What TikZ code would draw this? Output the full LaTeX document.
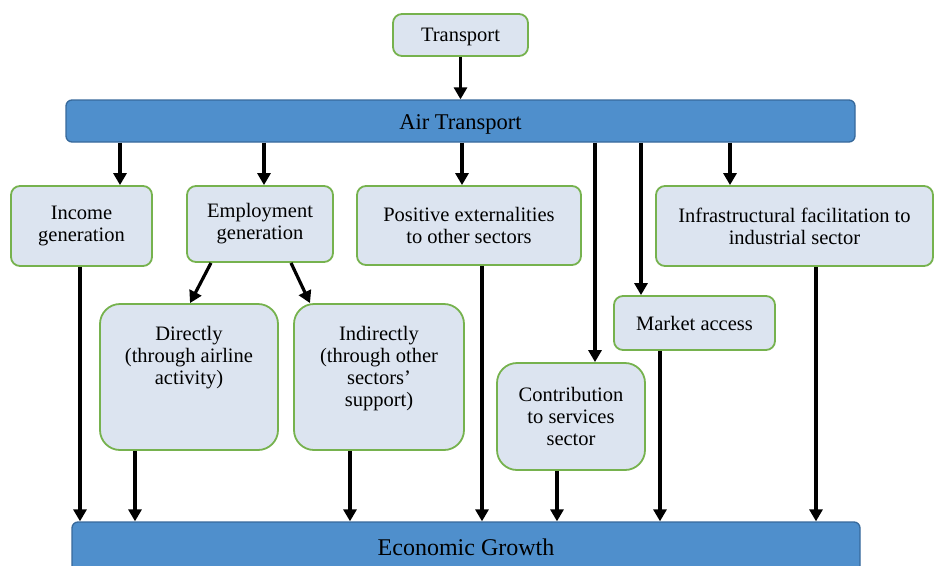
\documentclass[tikz,border=0pt]{standalone}
\usepackage{fontspec}
\setmainfont{Liberation Serif}
\usetikzlibrary{arrows.meta}

\definecolor{boxfill}{RGB}{220,228,240}
\definecolor{boxgreen}{RGB}{118,178,78}
\definecolor{barblue}{RGB}{79,143,204}
\definecolor{bardark}{RGB}{55,105,155}

\tikzset{
  box/.style={draw=boxgreen, fill=boxfill, line width=1.8pt, rounded corners=9pt,
    align=center, inner sep=0pt, font=\fontsize{20.5}{22}\selectfont},
  bigbox/.style={box, rounded corners=20pt},
  bar/.style={draw=bardark, fill=barblue, line width=1.3pt, rounded corners=6pt,
    inner sep=0pt},
  arr/.style={line width=3.2pt, -{Triangle[length=12pt,width=13pt]}}
}

\begin{document}
\begin{tikzpicture}[x=1pt,y=-1pt]
		\useasboundingbox (0,0) rectangle (934,565);
		% top
		\node [box, minimum width=135, minimum height=42, text height=13.6pt, text depth=0pt] (tr) at (460.5,35) {Transport};
		\node [bar, minimum width=789, minimum height=42, text height=17pt, text depth=0pt, font=\fontsize{22.5}{24}\selectfont] (air) at (460.5,121) {Air Transport};
		% first row
		\node [box, minimum width=141, minimum height=80] (inc) at (81.5,226) {Income\\generation};
		\node [box, minimum width=146, minimum height=76] (emp) at (260,224) {Employment\\generation};
		\node [box, minimum width=224, minimum height=79] (pos) at (469,225.5) {Positive externalities\\to other sectors};
		\node [box, minimum width=277, minimum height=80] (inf) at (794.5,226) {Infrastructural facilitation to\\industrial sector};
		% second row
		\node [bigbox, minimum width=178, minimum height=146] (dir) at (189,377) {Directly\\(through airline\\activity)\\~\\~};
		\node [bigbox, minimum width=170, minimum height=146] (ind) at (379,377) {Indirectly\\(through other\\sectors'\\support)\\~};
		\node [bigbox, minimum width=148, minimum height=107] (con) at (571,416.5) {Contribution\\to services\\sector};
		\node [box, minimum width=161, minimum height=54] (mkt) at (694.5,323) {Market access};
		% bottom
		\node [bar, minimum width=788, minimum height=56, text height=10.5pt, text depth=0pt, font=\fontsize{24}{26}\selectfont] (eco) at (466,550) {Economic Growth};
		% arrows down from air transport
		\draw [arr] (tr) -- (air);
		\draw [arr] (120,0 |- air.south) -- (120,0 |- inc.north);
		\draw [arr] (264,0 |- air.south) -- (264,0 |- emp.north);
		\draw [arr] (462,0 |- air.south) -- (462,0 |- pos.north);
		\draw [arr] (595,0 |- air.south) -- (595,0 |- con.north);
		\draw [arr] (641,0 |- air.south) -- (641,0 |- mkt.north);
		\draw [arr] (730,0 |- air.south) -- (730,0 |- inf.north);
		\draw [arr] (211,0 |- emp.south) -- (190,0 |- dir.north);
		\draw [arr] (291,0 |- emp.south) -- (310,0 |- ind.north);
		% arrows into economic growth
		\draw [arr] (80,0 |- inc.south) -- (80,0 |- eco.north);
		\draw [arr] (135,0 |- dir.south) -- (135,0 |- eco.north);
		\draw [arr] (350,0 |- ind.south) -- (350,0 |- eco.north);
		\draw [arr] (482,0 |- pos.south) -- (482,0 |- eco.north);
		\draw [arr] (557,0 |- con.south) -- (557,0 |- eco.north);
		\draw [arr] (660,0 |- mkt.south) -- (660,0 |- eco.north);
		\draw [arr] (816,0 |- inf.south) -- (816,0 |- eco.north);
\end{tikzpicture}
\end{document}
